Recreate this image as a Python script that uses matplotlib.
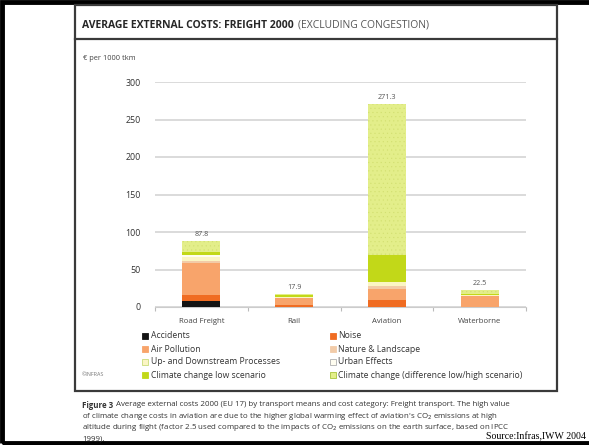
import matplotlib
matplotlib.use("Agg")
import matplotlib.pyplot as plt
from matplotlib import font_manager
from matplotlib.patches import Rectangle
from matplotlib.lines import Line2D
import numpy as np

# ---- data (EUR per 1000 tkm) ----
categories = ["Road Freight", "Rail", "Aviation", "Waterborne"]
accidents = [7.5, 0.0, 0.0, 0.0]
noise = [8.0, 3.0, 10.0, 0.0]
air_pollution = [43.0, 8.5, 14.0, 14.3]
nature_landscape = [2.5, 0.8, 4.0, 0.4]
up_downstream = [6.0, 1.2, 5.0, 1.6]
urban_effects = [3.0, 0.3, 1.0, 0.0]
climate_low = [4.0, 2.0, 35.0, 1.7]
climate_diff = [13.8, 2.1, 202.3, 4.5]
y_ticks = [0, 50, 100, 150, 200, 250, 300]

series = [
    ("Accidents", accidents, "#141414", None),
    ("Noise", noise, "#f06c22", None),
    ("Air Pollution", air_pollution, "#f8a46b", None),
    ("Nature & Landscape", nature_landscape, "#f2cba8", None),
    ("Up- and Downstream Processes", up_downstream, "#fbf5c4", None),
    ("Urban Effects", urban_effects, "#fffdf0", None),
    ("Climate change low scenario", climate_low, "#c2d818", None),
    ("Climate change (difference low/high scenario)", climate_diff, "#e3ee8a", "...."),
]

W, H = 589, 445
fig = plt.figure(figsize=(W / 100, H / 100), dpi=100)
fig.patch.set_facecolor("white")
plt.rcParams["hatch.linewidth"] = 0.3

installed = {f.name for f in font_manager.fontManager.ttflist}
font = "DejaVu Sans"
for cand in ["Open Sans", "Noto Sans"]:
    if cand in installed:
        font = cand
        break


def fx(px):
    return px / W


def fy(py):
    return 1 - py / H


renderer = fig.canvas.get_renderer()


def width_px(t):
    return t.get_window_extent(renderer=renderer).width


# slide frame (left, top, bottom)
fig.add_artist(Rectangle((fx(2), fy(443)), fx(620), 441 / H, transform=fig.transFigure,
                         fill=False, edgecolor="black", linewidth=3.5, clip_on=False))
# inner panel
fig.add_artist(Rectangle((fx(75), fy(391)), fx(557 - 75), (391 - 5) / H, transform=fig.transFigure,
                         fill=False, edgecolor="#3a3a3a", linewidth=1.6))
fig.add_artist(Line2D([fx(75), fx(557)], [fy(39), fy(39)], transform=fig.transFigure,
                      color="#3a3a3a", linewidth=1.6))

# title, sized so the full line spans the header
title_size = 8.0
t1 = fig.text(fx(82), fy(25), "AVERAGE EXTERNAL COSTS: FREIGHT 2000", fontsize=title_size,
              fontweight="bold", color="#262626", va="center", ha="left", family=font)
t2 = fig.text(0, fy(25), "(EXCLUDING CONGESTION)", fontsize=title_size,
              color="#555555", va="center", ha="left", family=font)
total_w = width_px(t1) + 4 + width_px(t2)
scale = (430 - 82) / total_w
t1.set_fontsize(title_size * scale)
t2.set_fontsize(title_size * scale)
t2.set_x((82 + width_px(t1) + 4) / W)

fig.text(fx(83), fy(59), "€ per 1000 tkm", fontsize=5.4, color="#444444", va="center", family=font)

# chart area
ax = fig.add_axes([fx(155), fy(307), fx(526 - 155), (307 - 82) / H])
x = np.arange(len(categories))
bottom = np.zeros(len(categories))
for name, vals, color, hatch in series:
    vals = np.array(vals)
    ax.bar(x, vals, width=0.41, bottom=bottom, color=color, label=name,
           hatch=hatch, edgecolor="#d2df70" if hatch else "none", linewidth=0, zorder=3)
    bottom += vals

for xi, total in zip(x, bottom):
    ax.text(xi, total + 4, f"{total:.1f}", ha="center", va="bottom", fontsize=5.2,
            color="#555555", family=font)

ax.set_xlim(-0.5, 3.5)
ax.set_ylim(0, 300)
ax.set_yticks(y_ticks)
ax.set_yticklabels([str(v) for v in y_ticks], fontsize=6.4, color="#333333", family=font)
ax.yaxis.grid(True, color="#d4d4d4", linewidth=1.2, zorder=0)
ax.set_axisbelow(True)
ax.tick_params(axis="y", length=0, pad=10)
ax.set_xticks([-0.5, 0.5, 1.5, 2.5, 3.5])
ax.set_xticklabels([])
ax.set_xticks(x, minor=True)
ax.set_xticklabels(categories, minor=True, fontsize=5.6, color="#444444", family=font)
ax.tick_params(axis="x", which="major", length=3, color="#bbbbbb", width=0.8)
ax.tick_params(axis="x", which="minor", length=0, pad=8)
for s in ["top", "right", "left"]:
    ax.spines[s].set_visible(False)
ax.spines["bottom"].set_color("#cccccc")
ax.spines["bottom"].set_linewidth(0.8)

# legend, placed as two columns of entries
edges = {"Up- and Downstream Processes": "#c9dc7a", "Urban Effects": "#b0b0b0",
         "Climate change (difference low/high scenario)": "#a9c43a"}
colors = {name: color for name, vals, color, hatch in series}
col1 = ["Accidents", "Air Pollution", "Up- and Downstream Processes", "Climate change low scenario"]
col2 = ["Noise", "Nature & Landscape", "Urban Effects", "Climate change (difference low/high scenario)"]
rows_y = [336, 349, 362, 375]
for col, x0 in [(col1, 142), (col2, 330)]:
    for name, yy in zip(col, rows_y):
        fig.add_artist(Rectangle((fx(x0), fy(yy + 3)), fx(6), 6 / H, transform=fig.transFigure,
                                 facecolor=colors[name], edgecolor=edges.get(name, colors[name]),
                                 linewidth=0.6))
        fig.text(fx(x0 + 8.5), fy(yy), name, fontsize=6.2, color="#333333", va="center",
                 family=font)

fig.text(fx(82), fy(375), "©INFRAS", fontsize=3.9, color="#777777", va="center", family=font)

# caption
cap = [
    "Average external costs 2000 (EU 17) by transport means and cost category: Freight transport. The high value",
    "of climate change costs in aviation are due to the higher global warming effect of aviation's CO$_2$ emissions at high",
    "altitude during flight (factor 2.5 used compared to the impacts of CO$_2$ emissions on the earth surface, based on IPCC",
    "1999).",
]
cap_size = 5.3
fb = fig.text(fx(82), fy(405), "Figure 3", fontsize=cap_size, fontweight="bold", color="#333333",
              va="center", family=font)
c0 = fig.text(0, fy(405), cap[0], fontsize=cap_size, color="#333333", va="center", family=font)
line_w = width_px(fb) + 3 + width_px(c0)
cap_size *= (508 - 82) / line_w
fb.set_fontsize(cap_size)
c0.set_fontsize(cap_size)
c0.set_x((82 + width_px(fb) + 3) / W)
for i, line in enumerate(cap[1:], start=1):
    fig.text(fx(82), fy(405 + 11.3 * i), line, fontsize=cap_size, color="#333333", va="center",
             family=font)

fig.text(fx(586), fy(437), "Source:Infras,IWW 2004", fontsize=7.1, color="black", ha="right",
         va="center", family="Liberation Serif")

fig.savefig("out.png", dpi=100)
